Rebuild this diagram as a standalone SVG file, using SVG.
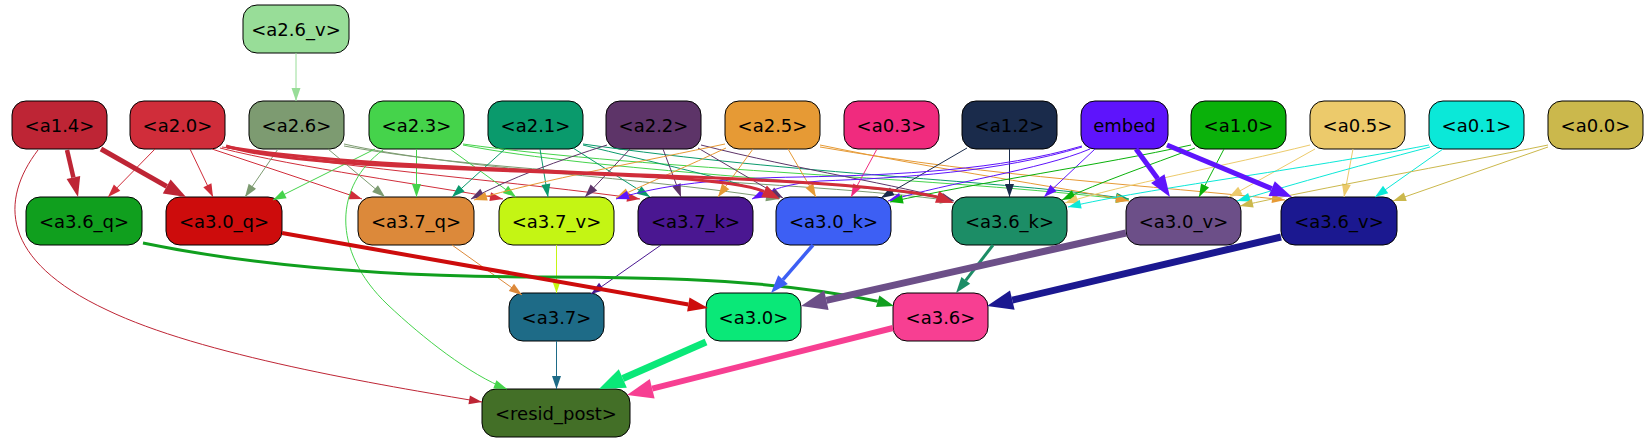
<svg xmlns="http://www.w3.org/2000/svg" width="1648" height="443" viewBox="0 0 1648 443">
<style>
.n rect{stroke:#000;stroke-width:1}
.n text{font-family:"DejaVu Sans","Liberation Sans",sans-serif;font-size:18px;text-anchor:middle;fill:#000}
.e path{fill:none;stroke-width:1}
.t path{fill:none}
</style>
<defs>
<marker id="m26v" markerUnits="userSpaceOnUse" markerWidth="13" markerHeight="9" refX="13" refY="4.5" orient="auto" overflow="visible"><path d="M0,0L13,4.5L0,9z" fill="#98dd98"/></marker>
<marker id="m14" markerUnits="userSpaceOnUse" markerWidth="13" markerHeight="9" refX="13" refY="4.5" orient="auto" overflow="visible"><path d="M0,0L13,4.5L0,9z" fill="#be2535"/></marker>
<marker id="m20" markerUnits="userSpaceOnUse" markerWidth="13" markerHeight="9" refX="13" refY="4.5" orient="auto" overflow="visible"><path d="M0,0L13,4.5L0,9z" fill="#d02d3a"/></marker>
<marker id="m26" markerUnits="userSpaceOnUse" markerWidth="13" markerHeight="9" refX="13" refY="4.5" orient="auto" overflow="visible"><path d="M0,0L13,4.5L0,9z" fill="#7d9b71"/></marker>
<marker id="m23" markerUnits="userSpaceOnUse" markerWidth="13" markerHeight="9" refX="13" refY="4.5" orient="auto" overflow="visible"><path d="M0,0L13,4.5L0,9z" fill="#45d34b"/></marker>
<marker id="m21" markerUnits="userSpaceOnUse" markerWidth="13" markerHeight="9" refX="13" refY="4.5" orient="auto" overflow="visible"><path d="M0,0L13,4.5L0,9z" fill="#0a9a6c"/></marker>
<marker id="m22" markerUnits="userSpaceOnUse" markerWidth="13" markerHeight="9" refX="13" refY="4.5" orient="auto" overflow="visible"><path d="M0,0L13,4.5L0,9z" fill="#5d3468"/></marker>
<marker id="m25" markerUnits="userSpaceOnUse" markerWidth="13" markerHeight="9" refX="13" refY="4.5" orient="auto" overflow="visible"><path d="M0,0L13,4.5L0,9z" fill="#e69a35"/></marker>
<marker id="m03" markerUnits="userSpaceOnUse" markerWidth="13" markerHeight="9" refX="13" refY="4.5" orient="auto" overflow="visible"><path d="M0,0L13,4.5L0,9z" fill="#f02b7e"/></marker>
<marker id="m12" markerUnits="userSpaceOnUse" markerWidth="13" markerHeight="9" refX="13" refY="4.5" orient="auto" overflow="visible"><path d="M0,0L13,4.5L0,9z" fill="#1a2b4b"/></marker>
<marker id="mem" markerUnits="userSpaceOnUse" markerWidth="13" markerHeight="9" refX="13" refY="4.5" orient="auto" overflow="visible"><path d="M0,0L13,4.5L0,9z" fill="#5e14fc"/></marker>
<marker id="m10" markerUnits="userSpaceOnUse" markerWidth="13" markerHeight="9" refX="13" refY="4.5" orient="auto" overflow="visible"><path d="M0,0L13,4.5L0,9z" fill="#0ab10a"/></marker>
<marker id="m05" markerUnits="userSpaceOnUse" markerWidth="13" markerHeight="9" refX="13" refY="4.5" orient="auto" overflow="visible"><path d="M0,0L13,4.5L0,9z" fill="#ecca6b"/></marker>
<marker id="m01" markerUnits="userSpaceOnUse" markerWidth="13" markerHeight="9" refX="13" refY="4.5" orient="auto" overflow="visible"><path d="M0,0L13,4.5L0,9z" fill="#0be8d8"/></marker>
<marker id="m00" markerUnits="userSpaceOnUse" markerWidth="13" markerHeight="9" refX="13" refY="4.5" orient="auto" overflow="visible"><path d="M0,0L13,4.5L0,9z" fill="#cbb84c"/></marker>
<marker id="m37q" markerUnits="userSpaceOnUse" markerWidth="13" markerHeight="9" refX="13" refY="4.5" orient="auto" overflow="visible"><path d="M0,0L13,4.5L0,9z" fill="#dc893a"/></marker>
<marker id="m37v" markerUnits="userSpaceOnUse" markerWidth="13" markerHeight="9" refX="13" refY="4.5" orient="auto" overflow="visible"><path d="M0,0L13,4.5L0,9z" fill="#c4f514"/></marker>
<marker id="m37k" markerUnits="userSpaceOnUse" markerWidth="13" markerHeight="9" refX="13" refY="4.5" orient="auto" overflow="visible"><path d="M0,0L13,4.5L0,9z" fill="#4a1791"/></marker>
<marker id="m37" markerUnits="userSpaceOnUse" markerWidth="13" markerHeight="9" refX="13" refY="4.5" orient="auto" overflow="visible"><path d="M0,0L13,4.5L0,9z" fill="#1e6b87"/></marker>
</defs>
<rect width="1648" height="443" fill="#fff"/>

<g id="nodes">
<g id="a2.6_v" class="n"><rect x="243" y="5" width="106" height="48" rx="14" fill="#98dd98"/><text x="296" y="35.5">&lt;a2.6_v&gt;</text></g>
<g id="a1.4" class="n"><rect x="12" y="101" width="95" height="48" rx="14" fill="#be2535"/><text x="59.5" y="131.5">&lt;a1.4&gt;</text></g>
<g id="a2.0" class="n"><rect x="130" y="101" width="95" height="48" rx="14" fill="#d02d3a"/><text x="177.5" y="131.5">&lt;a2.0&gt;</text></g>
<g id="a2.6" class="n"><rect x="249" y="101" width="95" height="48" rx="14" fill="#7d9b71"/><text x="296.5" y="131.5">&lt;a2.6&gt;</text></g>
<g id="a2.3" class="n"><rect x="369" y="101" width="95" height="48" rx="14" fill="#45d34b"/><text x="416.5" y="131.5">&lt;a2.3&gt;</text></g>
<g id="a2.1" class="n"><rect x="488" y="101" width="95" height="48" rx="14" fill="#0a9a6c"/><text x="535.5" y="131.5">&lt;a2.1&gt;</text></g>
<g id="a2.2" class="n"><rect x="606" y="101" width="95" height="48" rx="14" fill="#5d3468"/><text x="653.5" y="131.5">&lt;a2.2&gt;</text></g>
<g id="a2.5" class="n"><rect x="725" y="101" width="95" height="48" rx="14" fill="#e69a35"/><text x="772.5" y="131.5">&lt;a2.5&gt;</text></g>
<g id="a0.3" class="n"><rect x="844" y="101" width="95" height="48" rx="14" fill="#f02b7e"/><text x="891.5" y="131.5">&lt;a0.3&gt;</text></g>
<g id="a1.2" class="n"><rect x="962" y="101" width="95" height="48" rx="14" fill="#1a2b4b"/><text x="1009.5" y="131.5">&lt;a1.2&gt;</text></g>
<g id="embed" class="n"><rect x="1081" y="101" width="87" height="48" rx="14" fill="#5e14fc"/><text x="1124.5" y="131.5">embed</text></g>
<g id="a1.0" class="n"><rect x="1191" y="101" width="95" height="48" rx="14" fill="#0ab10a"/><text x="1238.5" y="131.5">&lt;a1.0&gt;</text></g>
<g id="a0.5" class="n"><rect x="1310" y="101" width="95" height="48" rx="14" fill="#ecca6b"/><text x="1357.5" y="131.5">&lt;a0.5&gt;</text></g>
<g id="a0.1" class="n"><rect x="1429" y="101" width="95" height="48" rx="14" fill="#0be8d8"/><text x="1476.5" y="131.5">&lt;a0.1&gt;</text></g>
<g id="a0.0" class="n"><rect x="1548" y="101" width="95" height="48" rx="14" fill="#cbb84c"/><text x="1595.5" y="131.5">&lt;a0.0&gt;</text></g>
<g id="a3.6_q" class="n"><rect x="26" y="197" width="116" height="48" rx="14" fill="#109f1e"/><text x="84" y="227.5">&lt;a3.6_q&gt;</text></g>
<g id="a3.0_q" class="n"><rect x="166" y="197" width="116" height="48" rx="14" fill="#cd0c0c"/><text x="224" y="227.5">&lt;a3.0_q&gt;</text></g>
<g id="a3.7_q" class="n"><rect x="358" y="197" width="116" height="48" rx="14" fill="#dc893a"/><text x="416" y="227.5">&lt;a3.7_q&gt;</text></g>
<g id="a3.7_v" class="n"><rect x="499" y="197" width="115" height="48" rx="14" fill="#c4f514"/><text x="556.5" y="227.5">&lt;a3.7_v&gt;</text></g>
<g id="a3.7_k" class="n"><rect x="638" y="197" width="115" height="48" rx="14" fill="#4a1791"/><text x="695.5" y="227.5">&lt;a3.7_k&gt;</text></g>
<g id="a3.0_k" class="n"><rect x="776" y="197" width="115" height="48" rx="14" fill="#3d5ff4"/><text x="833.5" y="227.5">&lt;a3.0_k&gt;</text></g>
<g id="a3.6_k" class="n"><rect x="952" y="197" width="115" height="48" rx="14" fill="#1c8d66"/><text x="1009.5" y="227.5">&lt;a3.6_k&gt;</text></g>
<g id="a3.0_v" class="n"><rect x="1126" y="197" width="115" height="48" rx="14" fill="#6c4f88"/><text x="1183.5" y="227.5">&lt;a3.0_v&gt;</text></g>
<g id="a3.6_v" class="n"><rect x="1281" y="197" width="116" height="48" rx="14" fill="#1b1890"/><text x="1339" y="227.5">&lt;a3.6_v&gt;</text></g>
<g id="a3.7" class="n"><rect x="509" y="293" width="95" height="48" rx="14" fill="#1e6b87"/><text x="556.5" y="323.5">&lt;a3.7&gt;</text></g>
<g id="a3.0" class="n"><rect x="706" y="293" width="95" height="48" rx="14" fill="#0ae878"/><text x="753.5" y="323.5">&lt;a3.0&gt;</text></g>
<g id="a3.6" class="n"><rect x="893" y="293" width="95" height="48" rx="14" fill="#f73f92"/><text x="940.5" y="323.5">&lt;a3.6&gt;</text></g>
<g id="resid_post" class="n"><rect x="482" y="389" width="148" height="48" rx="14" fill="#436f27"/><text x="556" y="419.5">&lt;resid_post&gt;</text></g>
</g>

<g id="connectors">
<g class="e">
<path d="M296,53L296,101" stroke="#98dd98" marker-end="url(#m26v)"/>
<path d="M38,150C0,200 0,260 107,310C200,355 380,385 482,402" stroke="#be2535" marker-end="url(#m14)"/>
<path d="M155,149L108,197" stroke="#d02d3a" marker-end="url(#m20)"/>
<path d="M190,149L213,197" stroke="#d02d3a" marker-end="url(#m20)"/>
<path d="M212,149L362,199" stroke="#d02d3a" marker-end="url(#m20)"/>
<path d="M220,148C300,168 420,184 503,199" stroke="#d02d3a" marker-end="url(#m20)"/>
<path d="M222,147C360,170 520,182 640,199" stroke="#d02d3a" marker-end="url(#m20)"/>
<path d="M278,149L245,197" stroke="#7d9b71" marker-end="url(#m26)"/>
<path d="M328,149L385,197" stroke="#7d9b71" marker-end="url(#m26)"/>
<path d="M344,144C450,168 650,178 779,199" stroke="#7d9b71" marker-end="url(#m26)"/>
<path d="M344,146C520,178 800,180 953,201" stroke="#7d9b71" marker-end="url(#m26)"/>
<path d="M375,149L273,200" stroke="#45d34b" marker-end="url(#m23)"/>
<path d="M383,150C335,185 330,250 388,305C423,338 470,375 507,389" stroke="#45d34b" marker-end="url(#m23)"/>
<path d="M416.5,149L416.5,197" stroke="#45d34b" marker-end="url(#m23)"/>
<path d="M450,149L516,197" stroke="#45d34b" marker-end="url(#m23)"/>
<path d="M463,145C600,172 850,180 953,200" stroke="#45d34b" marker-end="url(#m23)"/>
<path d="M463,144C650,170 950,178 1129,200" stroke="#45d34b" marker-end="url(#m23)"/>
<path d="M505,149L452,197" stroke="#0a9a6c" marker-end="url(#m21)"/>
<path d="M540,149L548,197" stroke="#0a9a6c" marker-end="url(#m21)"/>
<path d="M573,148L650,197" stroke="#0a9a6c" marker-end="url(#m21)"/>
<path d="M583,145C650,162 730,178 780,198" stroke="#0a9a6c" marker-end="url(#m21)"/>
<path d="M583,144C800,175 1000,180 1129,199" stroke="#0a9a6c" marker-end="url(#m21)"/>
<path d="M607,145C560,160 510,178 471,199" stroke="#5d3468" marker-end="url(#m22)"/>
<path d="M630,149L585,197" stroke="#5d3468" marker-end="url(#m22)"/>
<path d="M663,149L681,197" stroke="#5d3468" marker-end="url(#m22)"/>
<path d="M698,148L783,198" stroke="#5d3468" marker-end="url(#m22)"/>
<path d="M701,145C800,170 900,185 954,201" stroke="#5d3468" marker-end="url(#m22)"/>
<path d="M725,144C650,160 540,180 474,200" stroke="#e69a35" marker-end="url(#m25)"/>
<path d="M726,148C690,165 650,182 616,198" stroke="#e69a35" marker-end="url(#m25)"/>
<path d="M753,149L718,197" stroke="#e69a35" marker-end="url(#m25)"/>
<path d="M788,149L816,197" stroke="#e69a35" marker-end="url(#m25)"/>
<path d="M820,145C950,172 1050,185 1129,201" stroke="#e69a35" marker-end="url(#m25)"/>
<path d="M820,147C1000,178 1150,185 1285,200" stroke="#e69a35" marker-end="url(#m25)"/>
<path d="M877,149L851,197" stroke="#f02b7e" marker-end="url(#m03)"/>
<path d="M967,148L881,198" stroke="#1a2b4b" marker-end="url(#m12)"/>
<path d="M1009.5,149L1009.5,197" stroke="#1a2b4b" marker-end="url(#m12)"/>
<path d="M1082,146C1000,170 900,175 800,177C720,178 660,185 616,199" stroke="#5e14fc" marker-end="url(#mem)"/>
<path d="M1082,147C1000,172 900,178 820,181C790,183 770,190 752,199" stroke="#5e14fc" marker-end="url(#mem)"/>
<path d="M1090,149C1040,170 950,182 888,201" stroke="#5e14fc" marker-end="url(#mem)"/>
<path d="M1095,149L1044,197" stroke="#5e14fc" marker-end="url(#mem)"/>
<path d="M1191,145C1100,165 980,182 890,202" stroke="#0ab10a" marker-end="url(#m10)"/>
<path d="M1195,148C1150,165 1100,182 1062,200" stroke="#0ab10a" marker-end="url(#m10)"/>
<path d="M1224,149L1199,197" stroke="#0ab10a" marker-end="url(#m10)"/>
<path d="M1310,145C1230,165 1120,185 1065,203" stroke="#ecca6b" marker-end="url(#m05)"/>
<path d="M1315,149L1229,197" stroke="#ecca6b" marker-end="url(#m05)"/>
<path d="M1353,149L1344,197" stroke="#ecca6b" marker-end="url(#m05)"/>
<path d="M1429,145C1300,170 1150,188 1068,207" stroke="#0be8d8" marker-end="url(#m01)"/>
<path d="M1430,147C1350,168 1280,188 1237,201" stroke="#0be8d8" marker-end="url(#m01)"/>
<path d="M1443,149L1375,197" stroke="#0be8d8" marker-end="url(#m01)"/>
<path d="M1548,145C1450,165 1320,188 1240,206" stroke="#cbb84c" marker-end="url(#m00)"/>
<path d="M1548,147L1393,201" stroke="#cbb84c" marker-end="url(#m00)"/>
<path d="M452,245L522,295" stroke="#dc893a" marker-end="url(#m37q)"/>
<path d="M556.5,245L556.5,293" stroke="#c4f514" marker-end="url(#m37v)"/>
<path d="M661,245L591,294" stroke="#4a1791" marker-end="url(#m37k)"/>
<path d="M556.5,341L556.5,389" stroke="#1e6b87" marker-end="url(#m37)"/>
</g>
<g class="t">
<path d="M67,150L73.4,177.5" stroke="#be2535" stroke-width="4.5"/><polygon points="78,197 80.2,175.9 66.6,179.1" fill="#be2535"/>
<path d="M101,149L166.7,186.4" stroke="#be2535" stroke-width="5"/><polygon points="186,197 170.6,179.4 162.8,193.4" fill="#be2535"/>
<path d="M226,146C330,178 700,165 764,191.3" stroke="#d02d3a" stroke-width="3"/><polygon points="780,199 766.8,185.5 761.2,197.2" fill="#d02d3a"/>
<path d="M227,147C420,178 800,170 937.1,196.9" stroke="#d02d3a" stroke-width="3"/><polygon points="954,203 939.2,191.1 935,202.7" fill="#d02d3a"/>
<path d="M1136,149L1157.8,178.7" stroke="#5e14fc" stroke-width="5"/><polygon points="1170,197 1164.5,174.3 1151.1,183.1" fill="#5e14fc"/>
<path d="M1167,145L1271.7,188.6" stroke="#5e14fc" stroke-width="5"/><polygon points="1292,197 1274.8,181.2 1268.6,196" fill="#5e14fc"/>
<path d="M143,243C250,265 380,277 540,277C680,277 780,281 877.7,301.2" stroke="#109f1e" stroke-width="3"/><polygon points="894,306 879.4,295.4 876,307" fill="#109f1e"/>
<path d="M282,233L688.3,304.5" stroke="#cd0c0c" stroke-width="4"/><polygon points="708,308 689.5,297.6 687.1,311.4" fill="#cd0c0c"/>
<path d="M813,245L783,279.6" stroke="#3d5ff4" stroke-width="3.5"/><polygon points="771,293 787.8,283.9 778.2,275.3" fill="#3d5ff4"/>
<path d="M993,245L965.8,280.3" stroke="#1c8d66" stroke-width="3"/><polygon points="956,293 970.2,283.7 961.4,276.9" fill="#1c8d66"/>
<path d="M1126,233L826.4,300.3" stroke="#6c4f88" stroke-width="7"/><polygon points="801,306 828.6,310.1 824.2,290.5" fill="#6c4f88"/>
<path d="M1281,237L1012.3,300.1" stroke="#1b1890" stroke-width="7"/><polygon points="987,306 1014.6,309.8 1010,290.4" fill="#1b1890"/>
<path d="M706,342L622.8,378.5" stroke="#0ae878" stroke-width="7"/><polygon points="599,389 626.8,387.7 618.8,369.3" fill="#0ae878"/>
<path d="M893,328L652.2,388.7" stroke="#f73f92" stroke-width="6"/><polygon points="627,395 654.6,398.4 649.8,379" fill="#f73f92"/>
</g>
</g>
</svg>
